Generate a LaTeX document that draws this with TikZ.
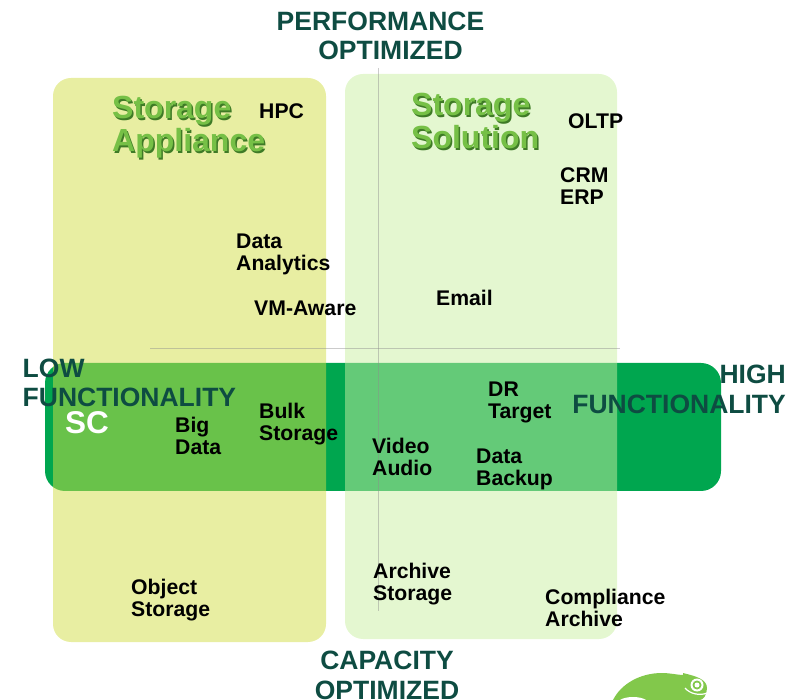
\documentclass[tikz,border=0pt]{standalone}
\usepackage{fontspec}
\setmainfont{Liberation Sans}
\usepackage{tikz}
\usetikzlibrary{positioning}
\definecolor{bandgreen}{RGB}{0,166,79}
\definecolor{axistext}{RGB}{14,76,66}
\definecolor{titlegreen}{RGB}{118,192,70}
\definecolor{titleshade}{RGB}{62,122,38}
\definecolor{logogreen}{RGB}{130,200,75}
\tikzstyle{quadrant}=[rounded corners=18pt,fill opacity=0.5]
\tikzstyle{axis line}=[draw=black!45,line width=0.7pt,opacity=0.45]
\tikzstyle{workload}=[anchor=north west,align=left,inner sep=0pt,font=\fontsize{21.2}{22}\selectfont\bfseries,text=black]
\tikzstyle{axis title}=[align=center,inner sep=0pt,font=\fontsize{26.5}{29.5}\selectfont\bfseries,text=axistext]
\tikzstyle{quadrant title}=[anchor=north west,align=left,inner sep=0pt,font=\fontsize{32}{33}\selectfont\bfseries,text=titlegreen]
\newcommand{\workloadnode}[4][]{
  \node [workload, #1] (#2) at #3 {#4}
}
\newcommand{\shadowed}[1]{\leavevmode\rlap{\raisebox{-2pt}{\hspace{1.5pt}\color{titleshade}#1}}#1}

\begin{document}
\begin{tikzpicture}[x=1pt,y=-1pt]
        \useasboundingbox (0,0) rectangle (796,700);
        \clip (0,0) rectangle (796,700);

        \path[fill=bandgreen,rounded corners=20pt] (45,363) rectangle (721,491);
        \path[quadrant,fill={rgb,255:red,210;green,222;blue,70}] (53,78) rectangle (326,642);
        \path[quadrant,fill={rgb,255:red,201;green,239;blue,162}] (345,74) rectangle (617,639);

        \coordinate (vtop) at (378.5,68);
        \coordinate (vbottom) at (378.5,611);
        \coordinate (hleft) at (150,348);
        \coordinate (hright) at (620,348);
        \draw[axis line] (vtop) -- (vbottom);
        \draw[axis line] (hleft) -- (hright);

        \node[axis title] (perf) at (380.5,36) {PERFORMANCE\\\hspace*{20pt}OPTIMIZED};
        \node[axis title] (cap) at (387,675.5) {CAPACITY\\OPTIMIZED};
        \node[axis title,anchor=north west,align=left] (low) at (22.5,358.5) {LOW\\FUNCTIONALITY};
        \node[axis title,anchor=north east,align=right] (high) at (786,365) {HIGH\\FUNCTIONALITY};

        \node[quadrant title] (appliance) at (112,96) {\shadowed{Storage}\\\shadowed{Appliance}};
        \node[quadrant title] (solution) at (411,93) {\shadowed{Storage}\\\shadowed{Solution}};
        \node[anchor=north west,inner sep=0pt,font=\fontsize{31.5}{32}\selectfont\bfseries,text=white] (sc) at (65,411) {SC};

        \workloadnode{hpc}{(259,103.5)}{HPC};
        \workloadnode{oltp}{(568,113.5)}{OLTP};
        \workloadnode{crm}{(560,167.5)}{CRM\\ERP};
        \workloadnode{analytics}{(236,233.5)}{Data\\Analytics};
        \workloadnode{vmaware}{(254,300.5)}{VM-Aware};
        \workloadnode{email}{(436,289.5)}{Email};
        \workloadnode{bigdata}{(175,416.5)}{Big\\Data};
        \workloadnode{bulk}{(259,402.5)}{Bulk\\Storage};
        \workloadnode{video}{(372,437.5)}{Video\\Audio};
        \workloadnode{dr}{(488,381.5)}{DR\\Target};
        \workloadnode{backup}{(476,448.5)}{Data\\Backup};
        \workloadnode{object}{(131,578.5)}{Object\\Storage};
        \workloadnode{archive}{(373,562.5)}{Archive\\Storage};
        \workloadnode{compliance}{(545,588.5)}{Compliance\\Archive};

        % logo, cut by the lower edge
        \path[fill=logogreen] (613,700) .. controls (621,684) and (640,673) .. (662,673)
          .. controls (670,673) and (678,675) .. (683,675) -- (683,673)
          .. controls (695,676) and (707,679) .. (707,688)
          .. controls (707,695) and (703,700) .. (700,700) -- cycle;
        \path[fill=white] (620,700) .. controls (626,696) and (640,696) .. (646,700) -- cycle;
        \path[fill=white] (697,685) circle (6.5pt);
        \path[fill=logogreen] (697,685) circle (4.5pt);
        \path[fill=white] (697,685) circle (2.5pt);
        \draw[white,line width=1.2pt] (685,688) .. controls (690,694) and (700,696) .. (707,693);
\end{tikzpicture}
\end{document}
